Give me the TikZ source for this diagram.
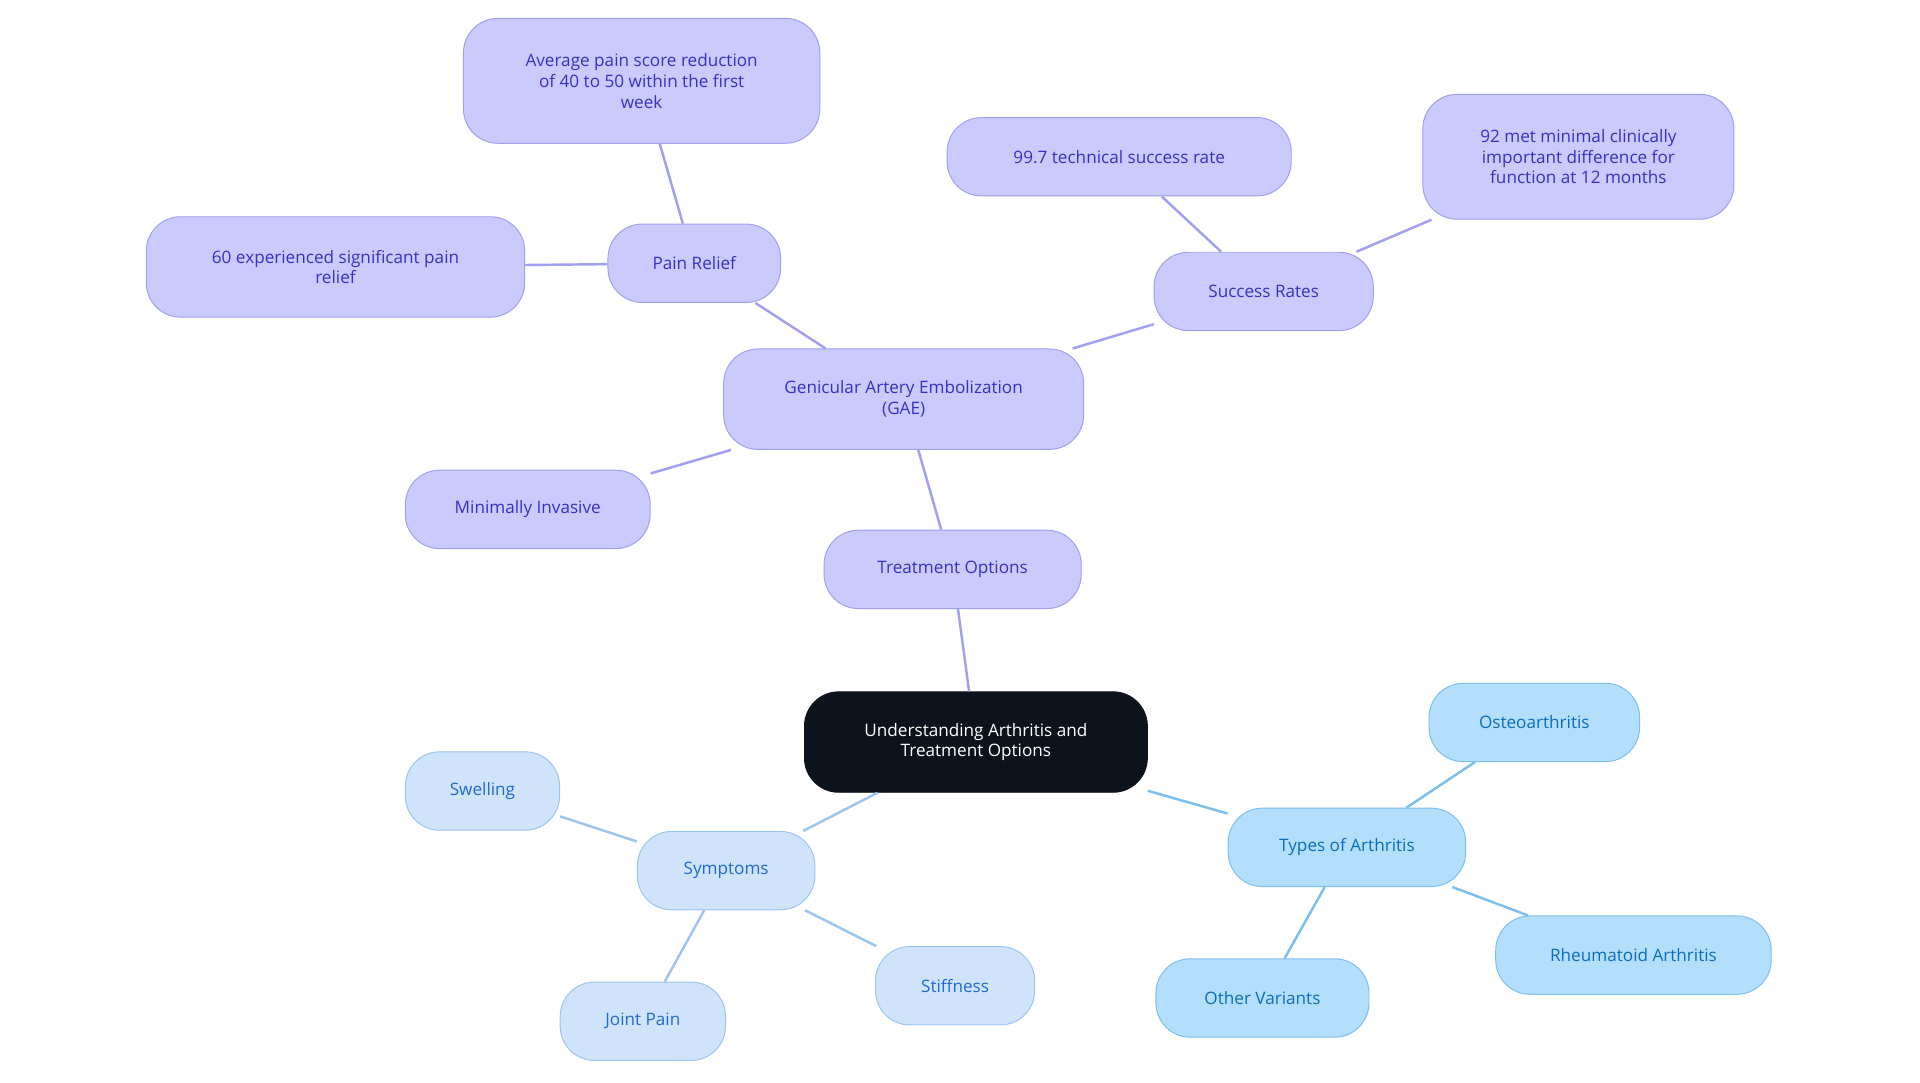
\documentclass[tikz,border=0pt]{standalone}
\usepackage{fontspec}
\setmainfont{Open Sans}
\definecolor{gaefill}{HTML}{CACBFC}
\definecolor{gaeline}{HTML}{A09FF0}
\definecolor{gaetext}{HTML}{3A2FC4}
\definecolor{symfill}{HTML}{CFE3FB}
\definecolor{symline}{HTML}{9CC4F0}
\definecolor{symtext}{HTML}{1E6CCB}
\definecolor{typfill}{HTML}{B4DFFC}
\definecolor{typline}{HTML}{7CBEEE}
\definecolor{typtext}{HTML}{0A6DBE}
\definecolor{rootfill}{HTML}{0D131C}
\begin{document}
\begin{tikzpicture}[x=1pt,y=-1pt,
  box/.style={rounded corners=28pt,draw,line width=0.8pt,align=center,
    font=\fontsize{14}{17}\selectfont,inner sep=0pt},
  gae/.style={box,fill=gaefill,draw=gaeline,text=gaetext},
  sym/.style={box,fill=symfill,draw=symline,text=symtext},
  typ/.style={box,fill=typfill,draw=typline,text=typtext},
  gl/.style={gaeline,line width=2pt},
  sl/.style={symline,line width=2pt},
  tl/.style={typline,line width=2pt}]
\useasboundingbox (0,0) rectangle (1568,884);
\node[box,fill=rootfill,draw=rootfill,text=white,minimum width=280pt,minimum height=82pt] (root) at (797,606) {Understanding Arthritis and\\Treatment Options};
% treatment branch
\node[gae,minimum width=210pt,minimum height=64pt] (treat) at (778,465) {Treatment Options};
\node[gae,minimum width=294pt,minimum height=82pt] (gae) at (738,326) {Genicular Artery Embolization\\(GAE)};
\node[gae,minimum width=141pt,minimum height=64pt] (pain) at (567,215) {Pain Relief};
\node[gae,minimum width=291pt,minimum height=102pt] (avg) at (524,66) {Average pain score reduction\\of 40 to 50 within the first\\week};
\node[gae,minimum width=309pt,minimum height=82pt] (sixty) at (274,218) {60 experienced significant pain\\relief};
\node[gae,minimum width=179pt,minimum height=64pt] (success) at (1032,238) {Success Rates};
\node[gae,minimum width=281pt,minimum height=64pt] (tech) at (914,128) {99.7 technical success rate};
\node[gae,minimum width=254pt,minimum height=102pt] (mcid) at (1289,128) {92 met minimal clinically\\important difference for\\function at 12 months};
\node[gae,minimum width=200pt,minimum height=64pt] (mini) at (431,416) {Minimally Invasive};
% types branch
\node[typ,minimum width=194pt,minimum height=64pt] (types) at (1100,692) {Types of Arthritis};
\node[typ,minimum width=172pt,minimum height=64pt] (osteo) at (1253,590) {Osteoarthritis};
\node[typ,minimum width=225pt,minimum height=64pt] (rheum) at (1334,780) {Rheumatoid Arthritis};
\node[typ,minimum width=174pt,minimum height=64pt] (other) at (1031,815) {Other Variants};
% symptoms branch
\node[sym,minimum width=145pt,minimum height=64pt] (symp) at (593,711) {Symptoms};
\node[sym,minimum width=126pt,minimum height=64pt] (swell) at (394,646) {Swelling};
\node[sym,minimum width=135pt,minimum height=64pt] (joint) at (525,834) {Joint Pain};
\node[sym,minimum width=130pt,minimum height=64pt] (stiff) at (780,805) {Stiffness};
\begin{scope}[on background layer/.style={}]
\end{scope}
\draw[gl] (root) -- (treat);
\draw[gl] (treat) -- (gae);
\draw[gl] (gae) -- (pain);
\draw[gl] (pain) -- (avg);
\draw[gl] (pain) -- (sixty);
\draw[gl] (gae) -- (success);
\draw[gl] (success) -- (tech);
\draw[gl] (success) -- (mcid);
\draw[gl] (gae) -- (mini);
\draw[tl] (root) -- (types);
\draw[tl] (types) -- (osteo);
\draw[tl] (types) -- (rheum);
\draw[tl] (types) -- (other);
\draw[sl] (root) -- (symp);
\draw[sl] (symp) -- (swell);
\draw[sl] (symp) -- (joint);
\draw[sl] (symp) -- (stiff);
\end{tikzpicture}
\end{document}
